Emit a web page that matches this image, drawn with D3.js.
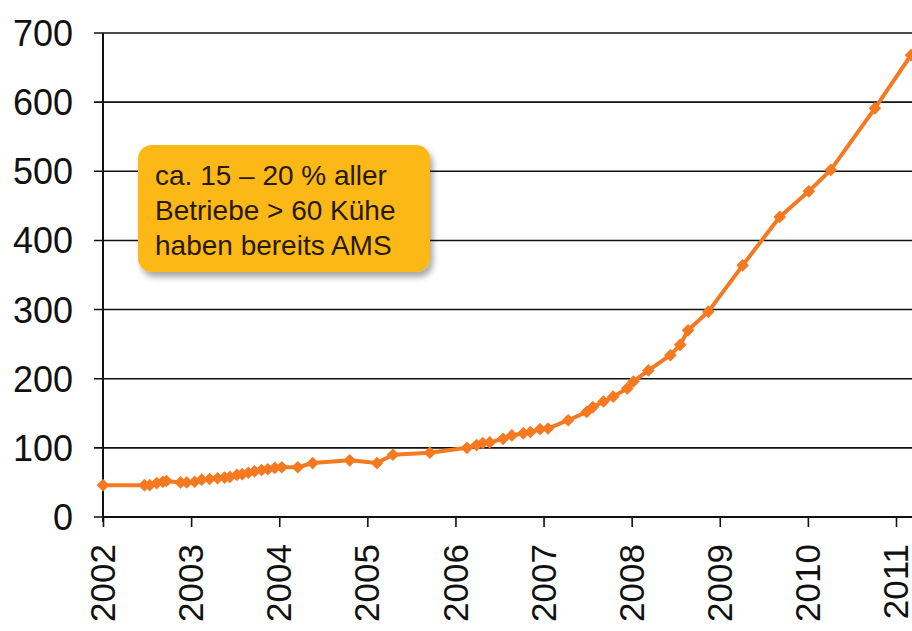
<!DOCTYPE html>
<html>
<head>
<meta charset="utf-8">
<script src="https://cdn.jsdelivr.net/npm/d3@7"></script>
<style>
  html, body { margin: 0; padding: 0; background: #ffffff; }
  svg { display: block; }
</style>
</head>
<body>
<svg id="chart" width="912" height="631"></svg>
<script>
// ---- data ----
const years = [
  2002.00, 2002.47, 2002.53, 2002.61, 2002.68, 2002.72, 2002.88, 2002.95,
  2003.04, 2003.12, 2003.21, 2003.30, 2003.38, 2003.44, 2003.52, 2003.58,
  2003.65, 2003.72, 2003.80, 2003.87, 2003.95, 2004.03, 2004.21, 2004.38,
  2004.80, 2005.11, 2005.29, 2005.71, 2006.13, 2006.24, 2006.31, 2006.39,
  2006.54, 2006.64, 2006.77, 2006.85, 2006.96, 2007.05, 2007.28, 2007.49,
  2007.56, 2007.68, 2007.79, 2007.95, 2008.02, 2008.19, 2008.44, 2008.55,
  2008.64, 2008.87, 2009.26, 2009.68, 2010.01, 2010.26, 2010.76, 2011.17
];
const values = [
  46, 46, 46, 49, 51, 52, 50, 50,
  51, 54, 55, 56, 57, 58, 61, 62,
  64, 66, 68, 69, 71, 72, 72, 78,
  82, 78, 90, 93, 100, 104, 107, 108,
  113, 118, 121, 123, 127, 128, 140, 152,
  159, 167, 174, 186, 196, 212, 234, 249,
  270, 297, 364, 434, 471, 502, 591, 668
];
const xTickLabels = ["2002","2003","2004","2005","2006","2007","2008","2009","2010","2011"];
const yTickValues = [0, 100, 200, 300, 400, 500, 600, 700];
const noteLines = ["ca. 15 \u2013 20 % aller", "Betriebe > 60 K\u00fche", "haben bereits AMS"];

// ---- layout ----
const svg = d3.select("#chart");
const font = "Arial, 'Liberation Sans', sans-serif";
const lineColor = "#F47920";

const x = d3.scaleLinear().domain([2002, 2011]).range([103, 896]);
const y = d3.scaleLinear().domain([0, 700]).range([517, 33]);
const plotRight = 912;

// gridlines
svg.append("g")
  .selectAll("line")
  .data(yTickValues)
  .join("line")
  .attr("x1", x(2002) - 9)
  .attr("x2", plotRight)
  .attr("y1", d => y(d))
  .attr("y2", d => y(d))
  .attr("stroke", "#111")
  .attr("stroke-width", 1.6);

// y labels
svg.append("g")
  .selectAll("text")
  .data(yTickValues)
  .join("text")
  .attr("x", 73)
  .attr("y", d => y(d))
  .attr("dy", "0.36em")
  .attr("text-anchor", "end")
  .attr("font-family", font)
  .attr("font-size", 36)
  .attr("fill", "#111")
  .text(d => d);

// y axis line
svg.append("line")
  .attr("x1", x(2002)).attr("x2", x(2002))
  .attr("y1", y(700)).attr("y2", y(0) + 5)
  .attr("stroke", "#111").attr("stroke-width", 2);

// x axis
const xAxis = d3.axisBottom(x)
  .tickValues(xTickLabels.map(Number))
  .tickFormat(d3.format("d"))
  .tickSize(10)
  .tickSizeOuter(0);
const gx = svg.append("g")
  .attr("transform", `translate(0,${y(0)})`)
  .call(xAxis);
gx.select(".domain").remove();
gx.append("line")
  .attr("x1", x(2002)).attr("x2", plotRight)
  .attr("y1", 0).attr("y2", 0)
  .attr("stroke", "#111").attr("stroke-width", 2);
gx.selectAll(".tick line").attr("stroke", "#111").attr("stroke-width", 1.6);
gx.selectAll(".tick text")
  .attr("font-family", font)
  .attr("font-size", 35)
  .attr("fill", "#111")
  .attr("text-anchor", "end")
  .attr("transform", "rotate(-90)")
  .attr("x", -27)
  .attr("y", 0)
  .attr("dy", "0.33em");

// line
const line = d3.line()
  .x((d, i) => x(years[i]))
  .y(d => y(d));
svg.append("path")
  .datum(values)
  .attr("d", line)
  .attr("fill", "none")
  .attr("stroke", lineColor)
  .attr("stroke-width", 4)
  .attr("stroke-linejoin", "round");

// markers
const sym = d3.symbol().type(d3.symbolSquare).size(80);
svg.append("g")
  .selectAll("path")
  .data(values)
  .join("path")
  .attr("d", sym)
  .attr("transform", (d, i) => `translate(${x(years[i])},${y(d)}) rotate(45)`)
  .attr("fill", lineColor);

// annotation box
const defs = svg.append("defs");
const f = defs.append("filter").attr("id", "shadow")
  .attr("x", "-10%").attr("y", "-10%").attr("width", "130%").attr("height", "140%");
f.append("feGaussianBlur").attr("in", "SourceAlpha").attr("stdDeviation", 3).attr("result", "b");
f.append("feOffset").attr("in", "b").attr("dx", 3).attr("dy", 5).attr("result", "o");
f.append("feComponentTransfer").attr("in", "o").attr("result", "o2")
  .append("feFuncA").attr("type", "linear").attr("slope", 0.35);
const m = f.append("feMerge");
m.append("feMergeNode").attr("in", "o2");
m.append("feMergeNode").attr("in", "SourceGraphic");

const note = svg.append("g");
note.append("rect")
  .attr("x", 138).attr("y", 145)
  .attr("width", 292).attr("height", 127)
  .attr("rx", 14).attr("ry", 14)
  .attr("fill", "#FCB814")
  .attr("filter", "url(#shadow)");
note.selectAll("text")
  .data(noteLines)
  .join("text")
  .attr("x", 155)
  .attr("y", (d, i) => 185 + i * 35)
  .attr("font-family", font)
  .attr("font-size", 28)
  .attr("fill", "#261a04")
  .text(d => d);
</script>
</body>
</html>
